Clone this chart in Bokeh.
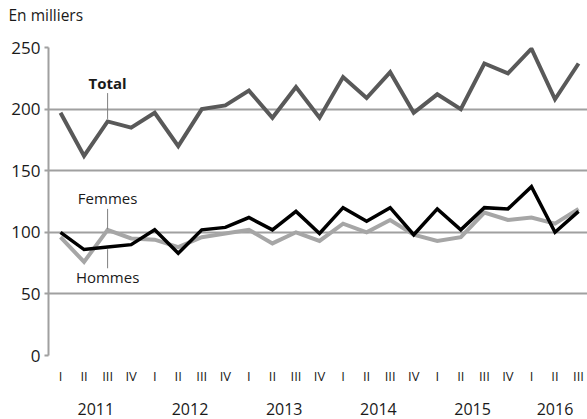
from bokeh.plotting import figure
from bokeh.models import Range1d, FixedTicker, LinearAxis, ColumnDataSource, Title
from bokeh.core.properties import value
from bokeh.embed import file_html
from bokeh.resources import INLINE

quarters = ["I", "II", "III", "IV"] * 5 + ["I", "II", "III"]
years = ["2011", "2012", "2013", "2014", "2015", "2016"]
year_pos = [1.5, 5.5, 9.5, 13.5, 17.5, 21]

total = [197, 162, 190, 185, 197, 170, 200, 203, 215, 193, 218, 193,
         226, 209, 230, 197, 212, 200, 237, 229, 249, 208, 237]
hommes = [100, 86, 88, 90, 102, 83, 102, 104, 112, 102, 117, 99,
          120, 109, 120, 98, 119, 102, 120, 119, 137, 100, 117]
femmes = [96, 76, 102, 95, 94, 88, 96, 99, 102, 91, 100, 93,
          107, 100, 110, 98, 93, 96, 116, 110, 112, 107, 119]

idx = list(range(len(total)))
src = ColumnDataSource(dict(x=idx, total=total, hommes=hommes, femmes=femmes))

FONT = "Open Sans"
TXT = "#1a1a1a"
GRID = "#a0a0a0"

p = figure(width=587, height=419, output_backend="svg", toolbar_location=None,
           x_range=Range1d(-0.51, 22.38), y_range=Range1d(0, 250),
           min_border_left=48, min_border_right=0, min_border_top=47,
           min_border_bottom=64, x_axis_location=None)
p.outline_line_color = None
p.background_fill_color = "white"
p.border_fill_color = "white"

# unit label at top-left (trailing empty line lifts it toward the top edge)
t = Title(text="En milliers\n", align="left", vertical_align="bottom", text_font=FONT,
          text_font_size="15.5px", text_font_style="normal", text_color=TXT,
          offset=-40, standoff=0)
p.add_layout(t, "above")

# y axis
p.yaxis.ticker = FixedTicker(ticks=[0, 50, 100, 150, 200, 250])
p.yaxis.axis_line_color = GRID
p.yaxis.axis_line_width = 2
p.yaxis.major_tick_line_color = GRID
p.yaxis.major_tick_line_width = 2
p.yaxis.major_tick_out = 4
p.yaxis.major_tick_in = 0
p.yaxis.minor_tick_line_color = None
p.yaxis.major_label_text_font = FONT
p.yaxis.major_label_text_font_size = "17px"
p.yaxis.major_label_text_color = TXT
p.yaxis.major_label_standoff = 4

p.ygrid.ticker = FixedTicker(ticks=[0, 50, 100, 150, 200, 250])
p.ygrid.grid_line_color = GRID
p.ygrid.grid_line_width = 2
p.xgrid.grid_line_color = None

# quarter axis
ax_q = LinearAxis(ticker=FixedTicker(ticks=idx),
                  major_label_overrides={i: q for i, q in enumerate(quarters)})
ax_q.axis_line_color = None
ax_q.major_tick_line_color = None
ax_q.major_tick_out = 0
ax_q.major_tick_in = 0
ax_q.minor_tick_line_color = None
ax_q.minor_tick_out = 0
ax_q.major_label_text_font = FONT
ax_q.major_label_text_font_size = "13px"
ax_q.major_label_text_color = TXT
ax_q.major_label_standoff = 11
p.add_layout(ax_q, "below")

# year axis
ax_y = LinearAxis(ticker=FixedTicker(ticks=year_pos),
                  major_label_overrides={pos: y for pos, y in zip(year_pos, years)})
ax_y.axis_line_color = None
ax_y.major_tick_line_color = None
ax_y.major_tick_out = 0
ax_y.major_tick_in = 0
ax_y.minor_tick_line_color = None
ax_y.minor_tick_out = 0
ax_y.major_label_text_font = FONT
ax_y.major_label_text_font_size = "16px"
ax_y.major_label_text_color = TXT
ax_y.major_label_standoff = 15
p.add_layout(ax_y, "below")

# lines
p.line("x", "femmes", source=src, line_color="#a6a6a6", line_width=4, line_join="miter")
p.line("x", "hommes", source=src, line_color="#000000", line_width=3.5, line_join="miter")
p.line("x", "total", source=src, line_color="#595959", line_width=4, line_join="miter")

# annotation labels with leader lines
p.segment(x0=[2, 2, 2], y0=[213, 119, 86.3], x1=[2, 2, 2], y1=[192, 102.6, 70.8],
          line_color="#7f7f7f", line_width=1)
p.text(x=[2], y=[221.5], text=["Total"], text_font=value(FONT), text_font_size="15px",
       text_font_style="bold", text_color=TXT, text_align="center", text_baseline="middle")
p.text(x=[2, 2], y=[127.9, 63.5], text=["Femmes", "Hommes"], text_font=value(FONT),
       text_font_size="15px", text_color=TXT, text_align="center", text_baseline="middle")

open("out.html", "w").write(file_html(p, INLINE))
